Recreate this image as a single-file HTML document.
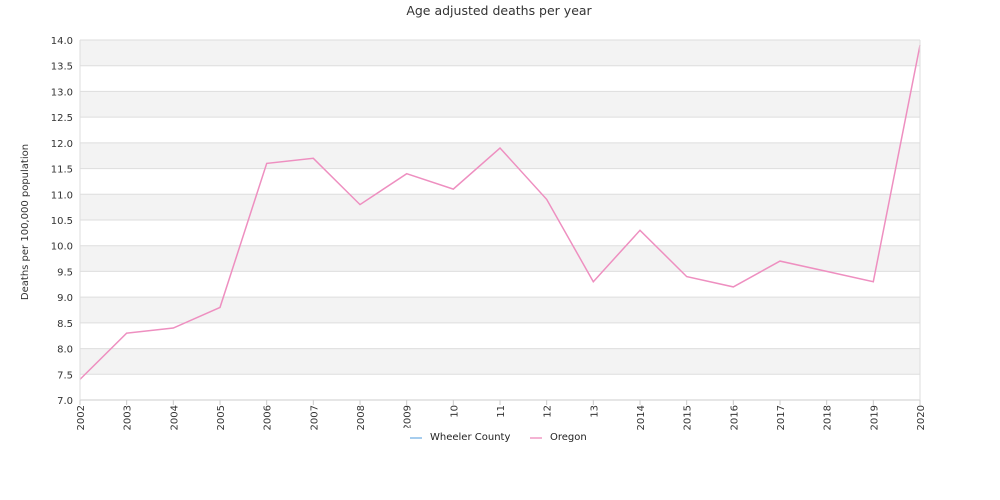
<!DOCTYPE html>
<html><head><meta charset="utf-8"><style>body{margin:0;background:#fff}svg{display:block;font-family:"DejaVu Sans","Liberation Sans",sans-serif}</style></head>
<body><svg width="1000" height="500" xmlns="http://www.w3.org/2000/svg">
<text x="499" y="15" text-anchor="middle" font-size="12.5" fill="#333">Age adjusted deaths per year</text>
<g id="bands"></g>
<script>
(function(){var ns='http://www.w3.org/2000/svg';var g=document.getElementById('bands');
for(var k=0;k<14;k++){var y0=40+k*360/14;
 if(k%2==0){var r=document.createElementNS(ns,'rect');r.setAttribute('x',80);r.setAttribute('y',y0);r.setAttribute('width',840);r.setAttribute('height',360/14);r.setAttribute('fill','#f3f3f3');g.appendChild(r);}
 var l=document.createElementNS(ns,'line');l.setAttribute('x1',80);l.setAttribute('x2',920);l.setAttribute('y1',y0);l.setAttribute('y2',y0);l.setAttribute('stroke','#dedede');g.appendChild(l);}
for(var k=0;k<=14;k++){var y=40+k*360/14;var t=document.createElementNS(ns,'text');t.setAttribute('x',73);t.setAttribute('y',y+4);t.setAttribute('text-anchor','end');t.setAttribute('font-size','10');t.setAttribute('fill','#333');t.textContent=(14-k*0.5).toFixed(1);g.appendChild(t);}
var yrs=['2002','2003','2004','2005','2006','2007','2008','2009','10','11','12','13','2014','2015','2016','2017','2018','2019','2020'];
for(var i=0;i<19;i++){var x=80+i*840/18;var t=document.createElementNS(ns,'text');t.setAttribute('transform','translate('+(x+4)+',405) rotate(-90)');t.setAttribute('text-anchor','end');t.setAttribute('font-size','10');t.setAttribute('fill','#333');t.textContent=yrs[i];g.appendChild(t);
 var l=document.createElementNS(ns,'line');l.setAttribute('x1',x);l.setAttribute('x2',x);l.setAttribute('y1',400);l.setAttribute('y2',405);l.setAttribute('stroke','#ccc');g.appendChild(l);}
var d=[7.4,8.3,8.4,8.8,11.6,11.7,10.8,11.4,11.1,11.9,10.9,9.3,10.3,9.4,9.2,9.7,9.5,9.3,13.9];
var p='';for(var i=0;i<19;i++){p+=(i?'L':'M')+(80+i*840/18).toFixed(1)+' '+(40+(14-d[i])*360/7).toFixed(1);}
var pa=document.createElementNS(ns,'path');pa.setAttribute('d',p);pa.setAttribute('fill','none');pa.setAttribute('stroke','#ee8fc0');pa.setAttribute('stroke-width','1.5');g.appendChild(pa);
})();
</script>
<line x1="80" y1="400" x2="920" y2="400" stroke="#ccc"/>
<line x1="920" y1="40" x2="920" y2="400" stroke="#ddd"/>
<line x1="80" y1="40" x2="80" y2="400" stroke="#ddd"/>
<text transform="translate(28,222) rotate(-90)" text-anchor="middle" font-size="10" fill="#333">Deaths per 100,000 population</text>
<rect x="400" y="428" width="196" height="18" fill="#fff"/>
<line x1="410" y1="438" x2="422" y2="438" stroke="#a6cdee" stroke-width="2"/>
<text x="430" y="440" font-size="10" fill="#222">Wheeler County</text>
<line x1="530" y1="438" x2="542" y2="438" stroke="#f4b3d3" stroke-width="2"/>
<text x="550" y="440" font-size="10" fill="#222">Oregon</text>
</svg></body></html>
